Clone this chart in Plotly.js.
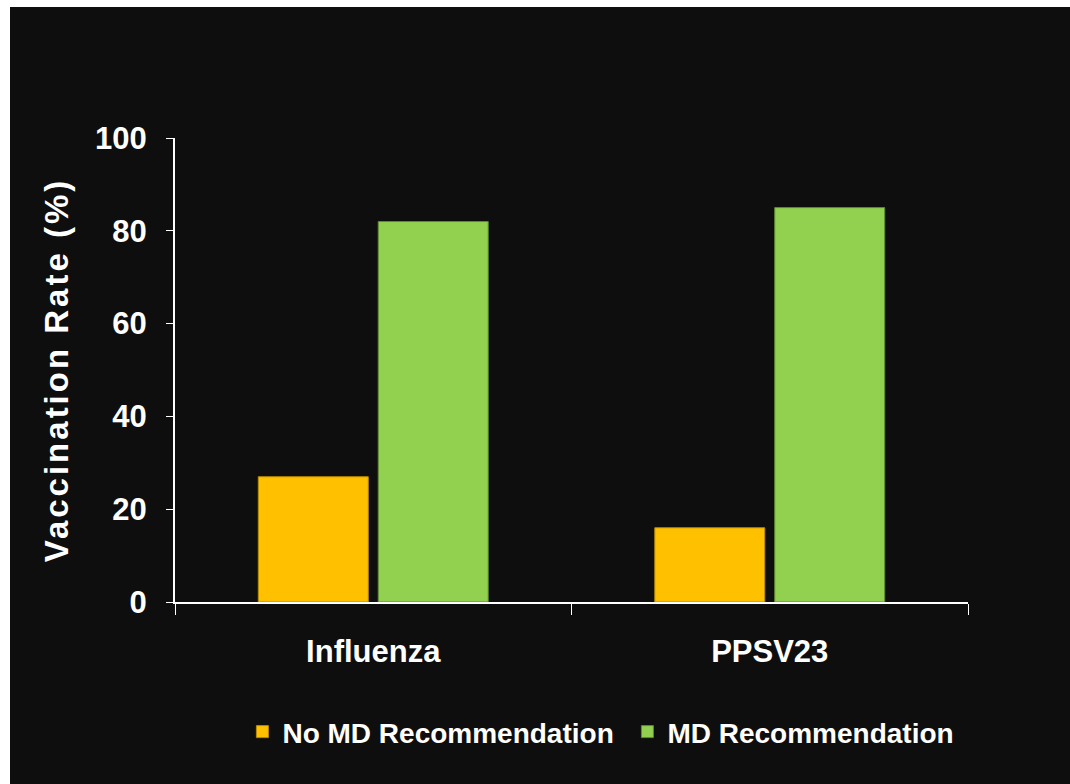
<!DOCTYPE html>
<html>
<head>
<meta charset="utf-8">
<script src="https://cdn.plot.ly/plotly-3.0.1.min.js"></script>
<style>
  html, body { margin: 0; padding: 0; background: #ffffff; width: 1070px; height: 784px; overflow: hidden; }
  #chart { position: absolute; left: 10px; top: 7px; width: 1060px; height: 777px; }
  .ytitle { letter-spacing: 3px; }
</style>
</head>
<body>
<div id="chart"></div>
<script>
const categories = ["Influenza", "PPSV23"];
const seriesNames = ["No MD Recommendation", "MD Recommendation"];
const noMdValues = [27, 16];
const mdValues = [82, 85];
const yTickValues = [0, 20, 40, 60, 80, 100];
const yTitle = "Vaccination Rate (%)";

const narrowBold = '"Liberation Sans Narrow", "Arial Narrow", "Liberation Sans", Arial, sans-serif';
const wideBold = '"Liberation Sans", Arial, sans-serif';

const traces = [
  {
    type: "bar", name: seriesNames[0], x: categories, y: noMdValues,
    marker: { color: "#FFC000", line: { color: "#B88A00", width: 1 } },
    hoverinfo: "x+y"
  },
  {
    type: "bar", name: seriesNames[1], x: categories, y: mdValues,
    marker: { color: "#92D050", line: { color: "#5E8A30", width: 1 } },
    hoverinfo: "x+y"
  }
];

const layout = {
  width: 1060, height: 777,
  paper_bgcolor: "#0e0e0e", plot_bgcolor: "#0e0e0e",
  margin: { l: 165, r: 102, t: 131, b: 182 },
  barmode: "group", bargap: 0.395, bargroupgap: 0.083,
  showlegend: true,
  legend: {
    orientation: "h", x: 0.085, xanchor: "left", y: -0.28, yanchor: "middle",
    font: { family: narrowBold, size: 28, color: "#ffffff", weight: "bold" },
    bgcolor: "rgba(0,0,0,0)", itemclick: false, itemdoubleclick: false,
    traceorder: "normal", entrywidth: 340, entrywidthmode: "pixels"
  },
  xaxis: {
    type: "category", showline: true, linecolor: "#ffffff", linewidth: 2,
    ticks: "outside", tickson: "boundaries", ticklen: 11, tickcolor: "#ffffff", tickwidth: 1,
    tickfont: { family: narrowBold, size: 31, color: "#ffffff", weight: "bold" },
    ticklabelstandoff: 21,
    showgrid: false, zeroline: false, fixedrange: true
  },
  yaxis: {
    range: [0, 100], tickvals: yTickValues, ticktext: yTickValues.map(String),
    showline: true, linecolor: "#ffffff", linewidth: 2,
    ticks: "outside", ticklen: 7, tickcolor: "#ffffff", tickwidth: 1,
    tickfont: { family: narrowBold, size: 31, color: "#ffffff", weight: "bold" },
    ticklabelstandoff: 13,
    showgrid: false, zeroline: false, fixedrange: true,
    title: { text: yTitle, font: { family: wideBold, size: 33, color: "#ffffff", weight: "bold" }, standoff: 17 }
  }
};

Plotly.newPlot("chart", traces, layout, { displayModeBar: false, staticPlot: true });
</script>
</body>
</html>
